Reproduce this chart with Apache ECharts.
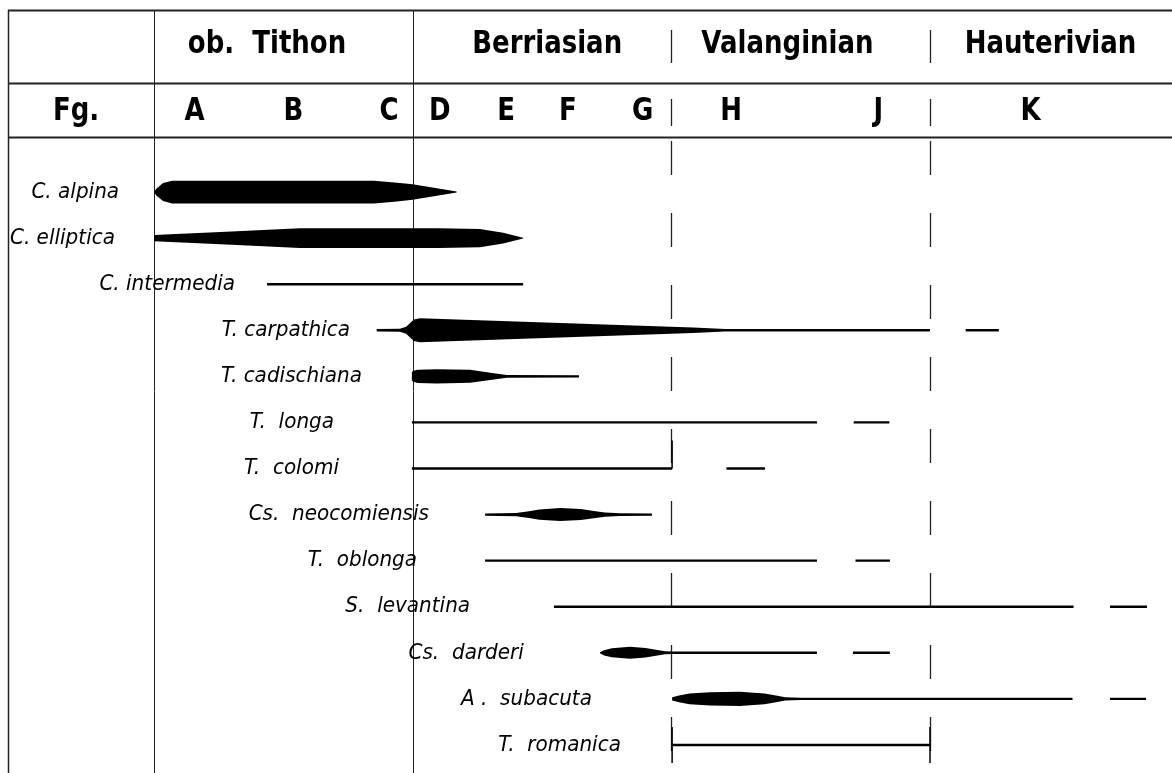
<!DOCTYPE html>
<html>
<head>
<meta charset="utf-8">
<title>Reichweiten der Calpionelliden</title>
<script src="https://cdn.jsdelivr.net/npm/echarts@6/dist/echarts.min.js"></script>
<style>
  html, body { margin: 0; padding: 0; background: #fff; }
  #chart { width: 1172px; height: 773px; }
</style>
</head>
<body>
<div id="chart"></div>
<script>
// Stufen (obere Kopfzeile); x in Stufen-Einheiten, 0 = linke Grenze ob. Tithon
const stages = ['ob.  Tithon', 'Berriasian', 'Valanginian', 'Hauterivian'];
const stageX = [0.437, 1.52, 2.449, 3.466];
const stageBounds = [0, 1, 2, 3];

// Zonen (zweite Kopfzeile)
const zones = ['A', 'B', 'C', 'D', 'E', 'F', 'G', 'H', 'J', 'K'];
const zoneX = [0.157, 0.539, 0.909, 1.105, 1.361, 1.60, 1.889, 2.231, 2.80, 3.389];

const taxa = [
  'C. alpina', 'C. elliptica', 'C. intermedia', 'T. carpathica', 'T. cadischiana',
  'T.  longa', 'T.  colomi', 'Cs.  neocomiensis', 'T.  oblonga', 'S.  levantina',
  'Cs.  darderi', 'A .  subacuta', 'T.  romanica'
];
// rechtes Ende der Namen (x-Wert)
const labelEnd = [-0.135, -0.151, 0.313, 0.758, 0.804, 0.696, 0.715, 1.063, 1.017, 1.222, 1.43, 1.693, 1.805];

// Häufigkeitsprofil je Taxon: [x, relative Häufigkeit], 1 = einfache Linie
const profiles = [
  [[0, 0.4], [0.01, 3], [0.035, 7.5], [0.07, 9.5], [0.85, 9.5], [0.93, 8], [1.0, 6.5], [1.17, 0.4]],
  [[0, 2.7], [0.3, 5.5], [0.564, 8.2], [1.1, 8.2], [1.26, 7.6], [1.35, 4.5], [1.427, 0.4]],
  [[0.437, 1], [1.427, 1]],
  [[0.861, 1], [0.951, 1.3], [0.975, 3], [0.99, 6], [1.005, 9], [1.028, 10], [2.084, 2.3], [2.207, 1], [3.0, 1]],
  [[0.997, 3.5], [1.002, 4.6], [1.02, 5.5], [1.093, 6], [1.222, 5.4], [1.3, 3], [1.364, 1.1], [1.643, 1]],
  [[0.997, 1], [2.563, 1]],
  [[0.997, 1], [2.003, 1]],
  [[1.28, 1], [1.40, 1.3], [1.45, 2.8], [1.49, 4.3], [1.57, 5.4], [1.65, 4.6], [1.7, 3], [1.743, 1.8], [1.80, 1.1], [1.925, 1]],
  [[1.28, 1], [2.563, 1]],
  [[1.546, 1], [3.555, 1]],
  [[1.724, 0.4], [1.74, 2.2], [1.77, 3.8], [1.84, 5], [1.90, 4], [1.94, 2.5], [1.976, 1.3], [2.003, 1], [2.563, 1]],
  [[2.003, 1.3], [2.03, 2.8], [2.07, 4.4], [2.15, 5.6], [2.265, 5.9], [2.36, 4.5], [2.41, 2.6], [2.44, 1.4], [2.50, 1], [3.551, 1]],
  [[2.003, 1], [3.0, 1]]
];

// isolierte Vorkommen (kurze Striche)
const isolated = [
  [], [], [], [[3.138, 3.266]], [], [[2.705, 2.843]], [[2.213, 2.362]], [],
  [[2.712, 2.845]], [[3.696, 3.839]], [[2.702, 2.845]], [[3.696, 3.835]], []
];

// Begrenzungsstriche: [Taxon, x, oben, unten]
const endTicks = [[6, 2.003, 1, 0], [12, 2.003, 1, 1], [12, 3.0, 1, 1]];

const HALF = 1.2;
const headFont = 'bold 26px "DejaVu Sans"';
const nameFont = 'oblique 20px "DejaVu Sans"';

const chart = echarts.init(document.getElementById('chart'));

function renderTaxon(params, api) {
  const i = api.value(0);
  const top = [], bot = [];
  profiles[i].forEach(function (p) {
    const c = api.coord([p[0], i]);
    top.push([c[0], c[1] - p[1] * HALF]);
    bot.unshift([c[0], c[1] + p[1] * HALF]);
  });
  const children = [{
    type: 'polygon',
    shape: { points: top.concat(bot) },
    style: { fill: '#000' }
  }];
  isolated[i].forEach(function (r) {
    const a = api.coord([r[0], i]);
    const b = api.coord([r[1], i]);
    children.push({
      type: 'rect',
      shape: { x: a[0], y: a[1] - HALF, width: b[0] - a[0], height: HALF * 2 },
      style: { fill: '#000' }
    });
  });
  endTicks.forEach(function (t) {
    if (t[0] !== i) return;
    const c = api.coord([t[1], i]);
    children.push({
      type: 'line',
      shape: { x1: c[0], y1: c[1] - 18 * t[2] - (t[3] ? 0 : 10 * t[2]), x2: c[0], y2: c[1] + 18 * t[3] },
      style: { stroke: '#000', lineWidth: 1.5 }
    });
  });
  const l = api.coord([labelEnd[i], i]);
  children.push({
    type: 'text',
    x: l[0], y: l[1], scaleY: 1.1,
    style: { text: taxa[i], align: 'right', verticalAlign: 'middle', font: nameFont, fill: '#000' }
  });
  return { type: 'group', children: children };
}

function renderBound(params, api) {
  const b = api.value(0);
  const x = Math.round(api.coord([b, 0])[0]) + 0.5;
  const h = api.getHeight();
  if (b < 2) {
    return {
      type: 'line',
      shape: { x1: x, y1: 10, x2: x, y2: h },
      style: { stroke: '#222', lineWidth: 1 }
    };
  }
  return {
    type: 'group',
    children: [
      { type: 'line', shape: { x1: x, y1: 30, x2: x, y2: 63 }, style: { stroke: '#222', lineWidth: 1.3 } },
      { type: 'line', shape: { x1: x, y1: 99, x2: x, y2: 126 }, style: { stroke: '#222', lineWidth: 1.3 } },
      { type: 'line', shape: { x1: x, y1: 141, x2: x, y2: h }, style: { stroke: '#222', lineWidth: 1.3, lineDash: [34, 38] } }
    ]
  };
}

function renderHead(y, names, xs) {
  return function (params, api) {
    const k = api.value(0);
    const c = api.coord([xs[k], 0]);
    return {
      type: 'text',
      x: c[0], y: y, scaleY: 1.2,
      style: { text: names[k], align: 'center', verticalAlign: 'middle', font: headFont, fill: '#000' }
    };
  };
}

const option = {
  animation: false,
  backgroundColor: '#fff',
  grid: { left: 154, right: 242, top: 169, bottom: 5 },
  xAxis: { type: 'value', min: 0, max: 3, show: false },
  yAxis: { type: 'category', data: taxa, inverse: true, show: false },
  graphic: [
    { type: 'line', shape: { x1: 8.5, y1: 10, x2: 8.5, y2: 773 }, style: { stroke: '#222', lineWidth: 1.5 } },
    { type: 'line', shape: { x1: 8, y1: 10.5, x2: 1172, y2: 10.5 }, style: { stroke: '#222', lineWidth: 1.8 } },
    { type: 'line', shape: { x1: 8, y1: 83.5, x2: 1172, y2: 83.5 }, style: { stroke: '#222', lineWidth: 1.8 } },
    { type: 'line', shape: { x1: 8, y1: 137.5, x2: 1172, y2: 137.5 }, style: { stroke: '#222', lineWidth: 1.8 } },
    { type: 'text', x: 76, y: 112, scaleY: 1.2, style: { text: 'Fg.', align: 'center', verticalAlign: 'middle', font: headFont, fill: '#000' } }
  ],
  series: [
    { type: 'custom', renderItem: renderBound, data: stageBounds.map(function (b) { return [b]; }), silent: true },
    { type: 'custom', renderItem: renderHead(45, stages, stageX), data: stages.map(function (s, k) { return [k]; }), silent: true },
    { type: 'custom', renderItem: renderHead(112, zones, zoneX), data: zones.map(function (s, k) { return [k]; }), silent: true },
    { type: 'custom', renderItem: renderTaxon, data: taxa.map(function (t, k) { return [k]; }), silent: true }
  ]
};
chart.setOption(option);
</script>
</body>
</html>
